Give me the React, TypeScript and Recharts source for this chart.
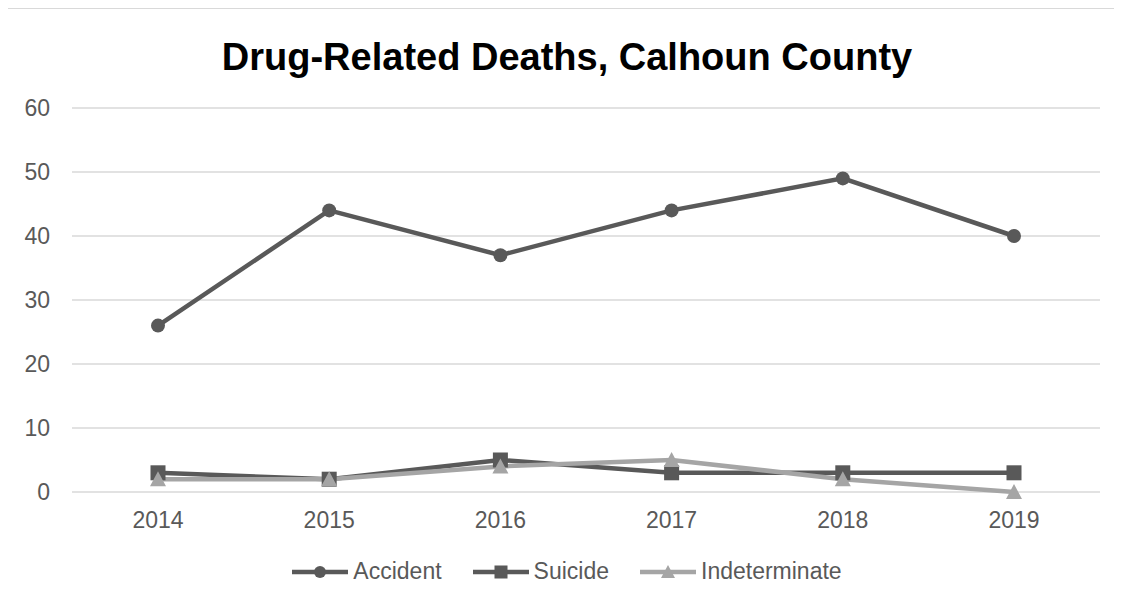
import React from "react";
import { LineChart, Line, XAxis, YAxis, CartesianGrid, Legend } from "recharts";

const years = ["2014", "2015", "2016", "2017", "2018", "2019"];
const accident = [26, 44, 37, 44, 49, 40];
const suicide = [3, 2, 5, 3, 3, 3];
const indeterminate = [2, 2, 4, 5, 2, 0];
const yTicks = [0, 10, 20, 30, 40, 50, 60];

const data = years.map((year, i) => ({
  year,
  accident: accident[i],
  suicide: suicide[i],
  indeterminate: indeterminate[i],
}));

const DARK = "#595959";
const LIGHT = "#a5a5a5";
const FONT = '"Liberation Sans", Arial, sans-serif';

function CircleDot(props: any) {
  const { cx, cy, index } = props;
  if (cx == null || cy == null) return null;
  return <circle key={`c-${index}`} cx={cx} cy={cy} r={7} fill={DARK} />;
}

function SquareDot(props: any) {
  const { cx, cy, index } = props;
  if (cx == null || cy == null) return null;
  return <rect key={`s-${index}`} x={cx - 7.5} y={cy - 7.5} width={15} height={15} fill={DARK} />;
}

function TriangleDot(props: any) {
  const { cx, cy, index } = props;
  if (cx == null || cy == null) return null;
  return (
    <path
      key={`t-${index}`}
      d={`M${cx},${cy - 8}L${cx + 8},${cy + 7}L${cx - 8},${cy + 7}Z`}
      fill={LIGHT}
    />
  );
}

const legendItems = [
  { name: "Accident", color: DARK, shape: "circle" },
  { name: "Suicide", color: DARK, shape: "square" },
  { name: "Indeterminate", color: LIGHT, shape: "triangle" },
];

function LegendContent() {
  return (
    <div
      style={{
        display: "flex",
        justifyContent: "center",
        paddingLeft: 12,
        gap: 31,
        fontFamily: FONT,
        fontSize: 23,
        color: DARK,
      }}
    >
      {legendItems.map((it) => (
        <div key={it.name} style={{ display: "flex", alignItems: "center", gap: 5 }}>
          <svg width={56} height={16}>
            <line x1={0} y1={8} x2={56} y2={8} stroke={it.color} strokeWidth={4.5} />
            {it.shape === "circle" && <circle cx={28} cy={8} r={6} fill={it.color} />}
            {it.shape === "square" && <rect x={21.5} y={1.5} width={13} height={13} fill={it.color} />}
            {it.shape === "triangle" && <path d="M28,1L35,14L21,14Z" fill={it.color} />}
          </svg>
          <span>{it.name}</span>
        </div>
      ))}
    </div>
  );
}

export default function App() {
  return (
    <div
      style={{
        position: "relative",
        width: 1122,
        height: 605,
        margin: -8,
        overflow: "hidden",
        background: "#fff",
      }}
    >
      <div
        style={{
          position: "absolute",
          left: 7,
          top: 8,
          width: 1200,
          height: 700,
          border: "1px solid #d9d9d9",
        }}
      />
      <div
        style={{
          position: "absolute",
          left: 0,
          top: 36,
          width: 1134,
          textAlign: "center",
          fontFamily: FONT,
          fontWeight: "bold",
          fontSize: 38,
          color: "#000",
        }}
      >
        Drug-Related Deaths, Calhoun County
      </div>
      <div style={{ position: "absolute", left: 0, top: 0 }}>
        <LineChart
          width={1122}
          height={605}
          data={data}
          margin={{ top: 108, right: 22, bottom: 56, left: 0 }}
        >
          <CartesianGrid vertical={false} stroke="#d9d9d9" strokeWidth={1.5} />
          <XAxis
            dataKey="year"
            height={30}
            padding={{ left: 86, right: 86 }}
            axisLine={false}
            tickLine={false}
            tickMargin={14}
            tick={{ fontSize: 23, fill: DARK, fontFamily: FONT }}
          />
          <YAxis
            width={72}
            domain={[0, 60]}
            ticks={yTicks}
            axisLine={false}
            tickLine={false}
            tickMargin={16}
            tick={{ fontSize: 23, fill: DARK, fontFamily: FONT }}
          />
          <Line
            dataKey="accident"
            name="Accident"
            stroke={DARK}
            strokeWidth={4.5}
            dot={CircleDot}
            activeDot={false}
            isAnimationActive={false}
          />
          <Line
            dataKey="suicide"
            name="Suicide"
            stroke={DARK}
            strokeWidth={4.5}
            dot={SquareDot}
            activeDot={false}
            isAnimationActive={false}
          />
          <Line
            dataKey="indeterminate"
            name="Indeterminate"
            stroke={LIGHT}
            strokeWidth={4.5}
            dot={TriangleDot}
            activeDot={false}
            isAnimationActive={false}
          />
          <Legend
            content={LegendContent}
            wrapperStyle={{ top: 558, left: 0, width: 1122 }}
          />
        </LineChart>
      </div>
    </div>
  );
}
